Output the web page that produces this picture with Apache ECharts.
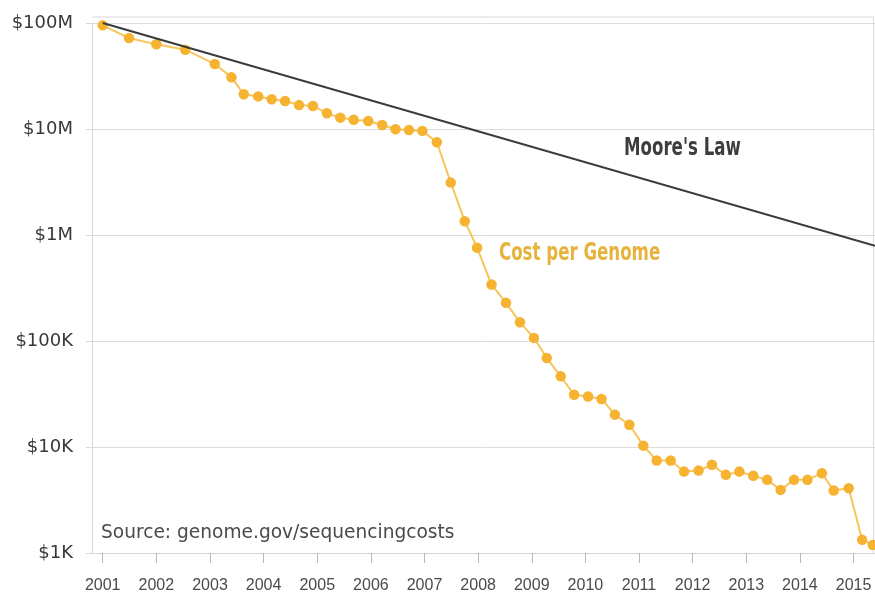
<!DOCTYPE html>
<html lang="en">
<head>
    <meta charset="UTF-8">
    <title>Cost per Genome</title>
    <style>
        * { padding: 0; margin: 0; box-sizing: border-box; }
        html, body, #chart { width: 100%; height: 100%; background: #fff; }
    </style>
</head>
<body>
    <div id="chart"></div>
    <script src="https://cdn.jsdelivr.net/npm/echarts@6/dist/echarts.min.js"></script>
    <script>
        // 年份（小数表示季度位置）
        const years = [
            2001.00, 2001.49, 2002.00, 2002.54, 2003.09, 2003.40, 2003.63, 2003.90,
            2004.15, 2004.40, 2004.66, 2004.92, 2005.18, 2005.43, 2005.68, 2005.95,
            2006.21, 2006.46, 2006.71, 2006.96, 2007.23, 2007.49, 2007.75, 2007.98,
            2008.25, 2008.52, 2008.78, 2009.04, 2009.28, 2009.54, 2009.79, 2010.05,
            2010.30, 2010.55, 2010.82, 2011.08, 2011.33, 2011.59, 2011.84, 2012.11,
            2012.36, 2012.62, 2012.87, 2013.13, 2013.39, 2013.64, 2013.89, 2014.14,
            2014.41, 2014.63, 2014.91, 2015.16, 2015.36
        ]

        // 每个基因组的测序成本（美元）
        const costPerGenome = [
            95e6, 72e6, 63e6, 56e6, 41e6, 30.7e6, 21.3e6, 20.3e6,
            19.1e6, 18.4e6, 16.8e6, 16.5e6, 14.1e6, 12.8e6, 12.2e6, 11.9e6,
            10.9e6, 9.96e6, 9.8e6, 9.6e6, 7.5e6, 3.12e6, 1.35e6, 759e3,
            341e3, 229e3, 150e3, 107e3, 69e3, 46.4e3, 31.1e3, 30e3,
            28.4e3, 20.2e3, 16.2e3, 10.3e3, 7450, 7450, 5860, 6000,
            6790, 5460, 5860, 5350, 4900, 3940, 4900, 4900,
            5660, 3880, 4080, 1330, 1190
        ]

        // 摩尔定律参考线（起点、终点）
        const mooreYears = [2001.0, 2015.4]
        const mooreValues = [1e8, 7.9e5]

        // 坐标轴刻度
        const xTickYears = [2001, 2002, 2003, 2004, 2005, 2006, 2007, 2008, 2009, 2010, 2011, 2012, 2013, 2014, 2015]
        const yTickValues = [1e3, 1e4, 1e5, 1e6, 1e7, 1e8]
        const yTickLabels = ['$1K', '$10K', '$100K', '$1M', '$10M', '$100M']

        const condensed = "'DejaVu Sans Condensed', 'DejaVu Sans', sans-serif"

        var myChart = echarts.init(document.getElementById('chart'))

        var option = {
            backgroundColor: '#ffffff',
            animation: false,
            grid: {
                left: 92,
                right: 0,
                top: 23,
                bottom: 44
            },
            xAxis: {
                type: 'value',
                min: 2000.8,
                max: 2015.4,
                axisLine: { show: true, lineStyle: { color: '#d6d6d6', width: 1 } },
                axisTick: {
                    show: true,
                    customValues: xTickYears,
                    length: 10,
                    lineStyle: { color: '#b8b8b8' }
                },
                axisLabel: {
                    customValues: xTickYears,
                    margin: 25,
                    color: '#4a4a4a',
                    fontSize: 16,
                    fontFamily: "'Liberation Sans', sans-serif",
                    formatter: function (v) { return String(Math.round(v)) }
                },
                splitLine: { show: false }
            },
            yAxis: {
                type: 'log',
                logBase: 10,
                min: 1e3,
                max: 1e8,
                axisLine: { show: true, lineStyle: { color: '#d6d6d6', width: 1 } },
                axisTick: { show: true, length: 6, lineStyle: { color: '#d6d6d6' } },
                axisLabel: {
                    margin: 19,
                    color: '#383838',
                    fontSize: 18,
                    fontFamily: "'DejaVu Sans', sans-serif",
                    formatter: function (v) {
                        var i = yTickValues.findIndex(t => Math.abs(Math.log10(t) - Math.log10(v)) < 1e-6)
                        return i >= 0 ? yTickLabels[i] : ''
                    }
                },
                splitLine: { show: true, lineStyle: { color: '#dcdcdc', width: 1 } }
            },
            graphic: [
                {
                    type: 'line',
                    shape: { x1: 92, y1: 17, x2: 874, y2: 17 },
                    style: { stroke: '#d6d6d6', lineWidth: 1 }
                },
                {
                    type: 'line',
                    shape: { x1: 873.5, y1: 17, x2: 873.5, y2: 553 },
                    style: { stroke: '#dcdcdc', lineWidth: 1 }
                },
                {
                    type: 'text',
                    x: 624,
                    y: 137,
                    scaleX: 0.77,
                    style: {
                        text: "Moore's Law",
                        fill: '#3d3d3d',
                        font: "bold 24px " + condensed,
                        verticalAlign: 'top'
                    }
                },
                {
                    type: 'text',
                    x: 499,
                    y: 242,
                    scaleX: 0.77,
                    style: {
                        text: 'Cost per Genome',
                        fill: '#e6b43e',
                        font: "bold 24px " + condensed,
                        verticalAlign: 'top'
                    }
                },
                {
                    type: 'text',
                    x: 101,
                    y: 524,
                    style: {
                        text: 'Source: genome.gov/sequencingcosts',
                        fill: '#4a4a4a',
                        font: "18.6px 'DejaVu Sans', sans-serif",
                        verticalAlign: 'top'
                    }
                }
            ],
            series: [
                {
                    name: "Moore's Law",
                    type: 'line',
                    data: mooreYears.map((y, i) => [y, mooreValues[i]]),
                    symbol: 'none',
                    lineStyle: { color: '#3a3a3a', width: 2 },
                    z: 3
                },
                {
                    name: 'Cost per Genome',
                    type: 'line',
                    data: years.map((y, i) => [y, costPerGenome[i]]),
                    symbol: 'circle',
                    symbolSize: 10.5,
                    itemStyle: { color: '#f5b331' },
                    lineStyle: { color: '#f7c55c', width: 2 },
                    z: 2
                }
            ]
        }
        myChart.setOption(option)
    </script>
</body>
</html>
